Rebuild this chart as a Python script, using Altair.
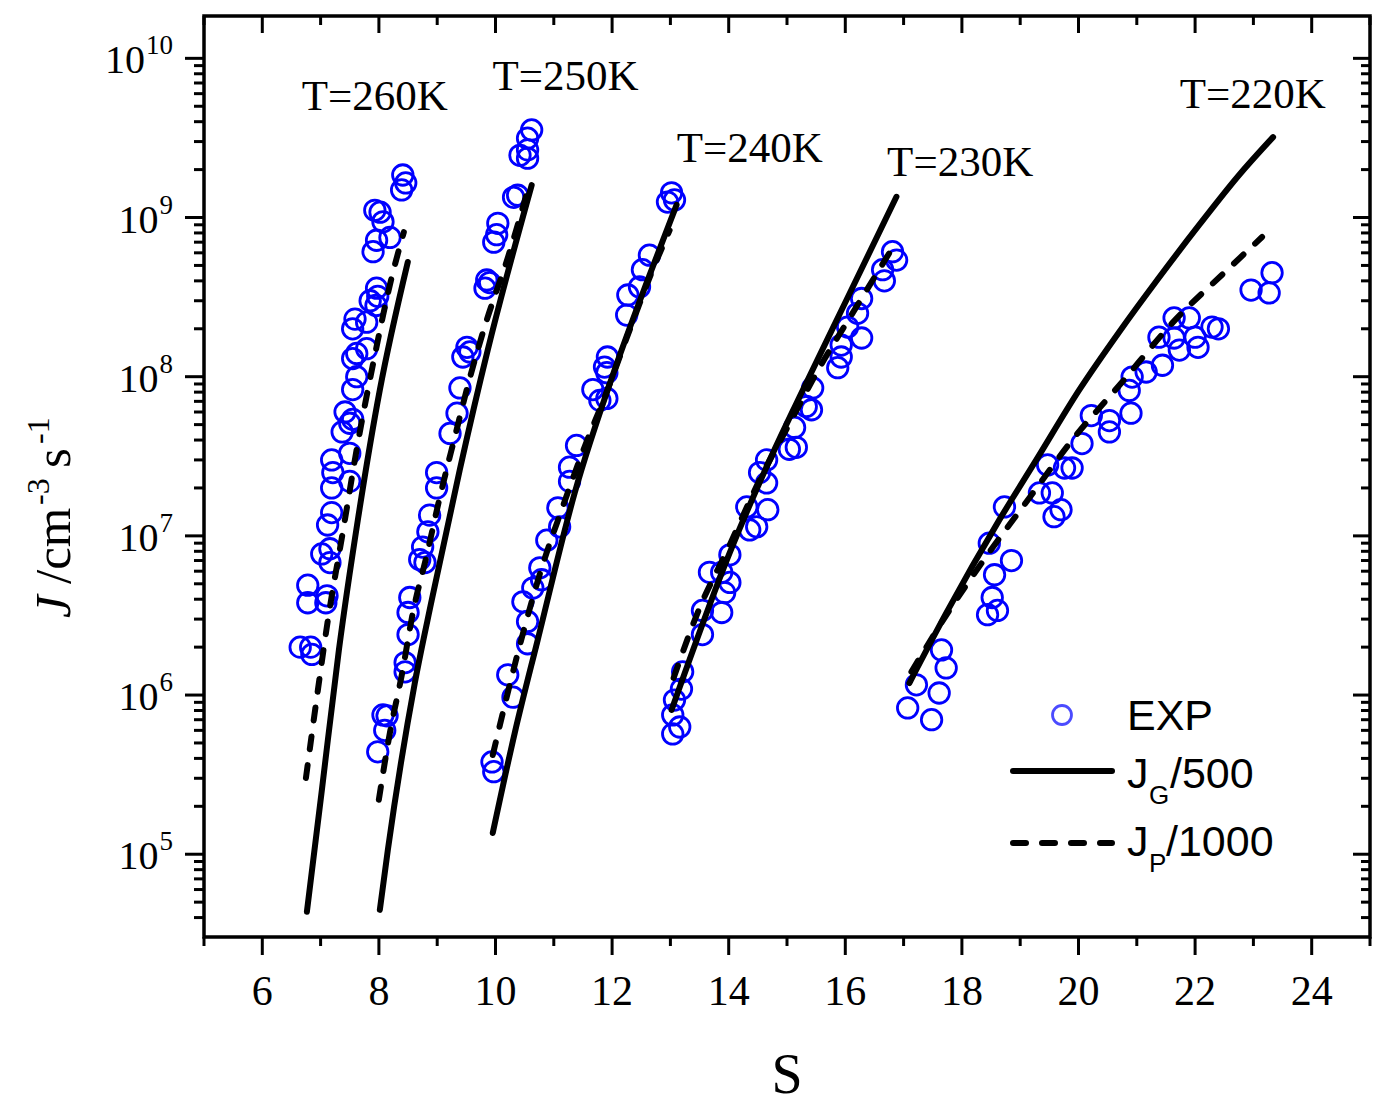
import altair as alt
import pandas as pd

# ---------------------------------------------------------------------------
# Measured nucleation rates J (cm^-3 s^-1) against supersaturation S
# ---------------------------------------------------------------------------
s_exp_260 = [8.41, 8.39, 8.46, 7.93, 8.02, 8.07, 8.19, 7.96, 7.90, 7.96, 7.98, 7.95, 7.85,
             7.59, 7.55, 7.79, 7.62, 7.55, 7.79, 7.62, 7.55, 7.42, 7.55, 7.37, 7.50, 7.50,
             7.19, 7.21, 7.19, 7.50, 7.19, 7.12, 7.16, 7.02, 7.16, 6.78, 6.78, 7.11, 7.09,
             6.65, 6.83, 6.85]
j_exp_260 = [1.85e9, 1.49e9, 1.65e9, 1.11e9, 1.08e9, 9.4e8, 7.5e8, 7.2e8, 6.1e8, 3.6e8, 3.2e8,
             2.8e8, 3.0e8, 2.3e8, 2.0e8, 2.2e8, 1.4e8, 1.3e8, 1.5e8, 1.0e8, 8.3e7, 6.0e7, 5.4e7,
             4.5e7, 5.1e7, 3.3e7, 3.0e7, 2.5e7, 2.0e7, 2.2e7, 1.4e7, 1.17e7, 8.3e6, 7.7e6, 6.8e6,
             4.9e6, 3.8e6, 4.2e6, 3.8e6, 2.0e6, 2.0e6, 1.8e6]

s_exp_250 = [10.62, 10.55, 10.42, 10.55, 10.55, 10.38, 10.31, 10.04, 10.02, 9.97, 9.85, 9.82,
             9.90, 9.51, 9.44, 9.56, 9.39, 9.34, 9.22, 8.99, 8.99, 8.87, 8.84, 8.75, 8.79, 8.70,
             8.53, 8.50, 8.50, 8.45, 8.45, 8.07, 8.14, 8.10, 7.98]
j_exp_250 = [3.55e9, 3.15e9, 2.46e9, 2.66e9, 2.36e9, 1.38e9, 1.34e9, 9.2e8, 7.8e8, 7.0e8, 4.05e8,
             3.6e8, 3.9e8, 1.53e8, 1.33e8, 1.43e8, 8.5e7, 5.9e7, 4.4e7, 2.5e7, 2.0e7, 1.35e7,
             1.06e7, 8.5e6, 6.8e6, 7.1e6, 4.1e6, 3.3e6, 2.4e6, 1.6e6, 1.4e6, 7.5e5, 7.4e5, 6.0e5,
             4.4e5]

s_exp_240 = [13.02, 12.95, 13.07, 12.64, 12.52, 12.47, 12.27, 12.25, 11.92, 11.87, 11.91, 11.67,
             11.91, 11.79, 11.39, 11.27, 11.27, 11.07, 11.10, 10.88, 10.76, 10.79, 10.47, 10.64,
             10.55, 10.55, 10.21, 10.30, 9.94, 9.97]
j_exp_240 = [1.43e9, 1.25e9, 1.29e9, 5.8e8, 4.7e8, 3.66e8, 3.26e8, 2.44e8, 1.33e8, 1.15e8, 1.06e8,
             8.3e7, 7.3e7, 7.1e7, 3.7e7, 2.7e7, 2.2e7, 1.5e7, 1.14e7, 9.4e6, 6.3e6, 5.3e6, 3.85e6,
             4.7e6, 2.9e6, 2.1e6, 1.34e6, 9.7e5, 3.8e5, 3.3e5]

s_exp_230 = [16.81, 16.88, 16.64, 16.67, 16.28, 16.21, 16.04, 16.28, 15.93, 15.93, 15.87, 15.44,
             15.33, 15.42, 15.13, 15.16, 15.04, 14.65, 14.53, 14.65, 14.67, 14.31, 14.48, 14.36,
             14.02, 13.67, 13.88, 14.02, 13.93, 13.55, 13.88, 13.55, 13.21, 13.19, 13.07, 13.04,
             13.16, 13.04]
j_exp_230 = [6.1e8, 5.4e8, 4.7e8, 4.0e8, 3.1e8, 2.5e8, 2.05e8, 1.75e8, 1.58e8, 1.33e8, 1.14e8,
             8.5e7, 6.5e7, 6.2e7, 4.8e7, 3.6e7, 3.5e7, 3.0e7, 2.5e7, 2.15e7, 1.46e7, 1.52e7,
             1.14e7, 1.09e7, 7.6e6, 5.9e6, 5.9e6, 5.1e6, 4.4e6, 3.4e6, 3.3e6, 2.4e6, 1.4e6,
             1.09e6, 9.3e5, 7.5e5, 6.3e5, 5.7e5]

s_exp_220 = [22.96, 23.32, 23.27, 21.64, 21.90, 22.29, 22.40, 21.38, 21.64, 22.00, 22.05, 21.73,
             21.44, 21.16, 20.92, 20.87, 20.90, 20.53, 20.53, 20.22, 20.06, 19.89, 19.76, 19.47,
             19.55, 19.33, 19.70, 19.58, 18.73, 18.47, 18.85, 18.56, 18.52, 18.61, 18.44, 17.65,
             17.73, 17.22, 17.61, 17.07, 17.48]
j_exp_220 = [3.5e8, 4.5e8, 3.36e8, 2.34e8, 2.34e8, 2.05e8, 2.0e8, 1.77e8, 1.75e8, 1.77e8, 1.53e8,
             1.47e8, 1.18e8, 1.07e8, 9.95e7, 8.2e7, 5.9e7, 5.3e7, 4.5e7, 5.7e7, 3.8e7, 2.67e7,
             2.67e7, 2.79e7, 1.86e7, 1.86e7, 1.46e7, 1.32e7, 1.52e7, 9.0e6, 7.0e6, 5.7e6, 4.1e6,
             3.4e6, 3.2e6, 1.92e6, 1.48e6, 1.16e6, 1.03e6, 8.3e5, 7.0e5]

# ---------------------------------------------------------------------------
# Model curves: J_G/500 (solid) and J_P/1000 (dashed)
# ---------------------------------------------------------------------------
s_g_260 = [6.765, 7.022, 7.314, 7.639, 8.016, 8.496]
j_g_260 = [4.35e4, 2.54e5, 1.92e6, 1.26e7, 8.26e7, 5.26e8]
s_p_260 = [6.748, 6.954, 7.125, 7.382, 7.639, 7.931, 8.188, 8.428]
j_p_260 = [3.01e5, 1.08e6, 2.96e6, 1.06e7, 3.84e7, 1.37e8, 3.77e8, 8.1e8]

s_g_250 = [8.016, 8.153, 8.616, 8.907, 9.387, 9.867, 10.621]
j_g_250 = [4.47e4, 1.06e5, 1.19e6, 3.96e6, 2.6e7, 1.47e8, 1.6e9]
s_p_250 = [7.999, 8.188, 8.393, 8.582, 8.822, 9.045, 9.302, 9.559, 9.85, 10.21, 10.553]
j_p_250 = [2.2e5, 5.78e5, 1.34e6, 3.28e6, 7.59e6, 1.75e7, 4.18e7, 9.8e7, 2.27e8, 5.57e8, 1.49e9]

s_g_240 = [9.953, 10.33, 10.724, 11.358, 12.06, 12.61, 13.106]
j_g_240 = [1.36e5, 5.78e5, 2.22e6, 1.86e7, 1.15e8, 4.05e8, 1.2e9]
s_p_240 = [9.953, 10.244, 10.501, 10.793, 11.135, 11.495, 11.906, 12.30, 12.695, 12.986]
j_p_240 = [4.2e5, 1.16e6, 2.68e6, 6.3e6, 1.46e7, 3.37e7, 8.0e7, 1.96e8, 4.68e8, 8.3e8]

s_g_230 = [13.02, 14.015, 14.649, 15.214, 16.02, 16.877]
j_g_230 = [8.06e5, 7.8e6, 2.71e7, 7.46e7, 3.03e8, 1.35e9]
s_p_230 = [13.055, 13.5, 13.98, 14.529, 15.077, 15.557, 16.105, 16.808]
j_p_230 = [1.28e6, 3.52e6, 8.2e6, 2.24e7, 5.35e7, 1.14e8, 2.44e8, 6.43e8]

s_g_220 = [17.099, 17.733, 18.642, 19.276, 20.013, 20.698, 21.35, 22.07, 22.755, 23.338]
j_g_220 = [1.19e6, 3.28e6, 1.26e7, 3.0e7, 8.26e7, 1.91e8, 4.05e8, 8.98e8, 1.85e9, 3.2e9]
s_p_220 = [17.134, 17.733, 18.419, 19.156, 19.893, 20.75, 21.607, 22.549, 23.149]
j_p_220 = [1.4e6, 3.18e6, 7.43e6, 1.73e7, 4.0e7, 9.27e7, 2.17e8, 4.68e8, 7.54e8]

# Temperature annotations (anchored in data space)
temp_labels = ["T=260K", "T=250K", "T=240K", "T=230K", "T=220K"]
temp_label_s = [7.93, 11.20, 14.36, 17.97, 22.99]
temp_label_j = [4.73e9, 6.3e9, 2.23e9, 1.82e9, 4.87e9]

# Axis ticks and labels
x_major = [6, 8, 10, 12, 14, 16, 18, 20, 22, 24]
x_minor = [5, 7, 9, 11, 13, 15, 17, 19, 21, 23, 25]
y_major = [1e5, 1e6, 1e7, 1e8, 1e9, 1e10]
y_exponents = ["5", "6", "7", "8", "9", "10"]

X_DOMAIN = [5, 25]
Y_DOMAIN = [3.02e4, 1.845e10]
y_minor = [k * 10 ** n for n in range(4, 11) for k in range(2, 10)
           if Y_DOMAIN[0] <= k * 10 ** n <= Y_DOMAIN[1]]

W, H = 1166, 921
SERIF = "Liberation Serif"
SANS = "Liberation Sans"
BLUE = "#0000FF"

xs = alt.Scale(domain=X_DOMAIN, nice=False, zero=False)
ys = alt.Scale(type="log", domain=Y_DOMAIN, nice=False)


def xenc(field="S"):
    return alt.X(f"{field}:Q", scale=xs, axis=None)


def yenc(field="J"):
    return alt.Y(f"{field}:Q", scale=ys, axis=None)


# ---------------------------------------------------------------------------
# Tables
# ---------------------------------------------------------------------------
exp_sets = {"260": (s_exp_260, j_exp_260), "250": (s_exp_250, j_exp_250),
            "240": (s_exp_240, j_exp_240), "230": (s_exp_230, j_exp_230),
            "220": (s_exp_220, j_exp_220)}
pts = pd.concat([pd.DataFrame({"S": s, "J": j, "T": t}) for t, (s, j) in exp_sets.items()])

g_sets = {"260": (s_g_260, j_g_260), "250": (s_g_250, j_g_250), "240": (s_g_240, j_g_240),
          "230": (s_g_230, j_g_230), "220": (s_g_220, j_g_220)}
p_sets = {"260": (s_p_260, j_p_260), "250": (s_p_250, j_p_250), "240": (s_p_240, j_p_240),
          "230": (s_p_230, j_p_230), "220": (s_p_220, j_p_220)}
g_df = pd.concat([pd.DataFrame({"S": s, "J": j, "T": t}) for t, (s, j) in g_sets.items()])
p_df = pd.concat([pd.DataFrame({"S": s, "J": j, "T": t}) for t, (s, j) in p_sets.items()])

tl_df = pd.DataFrame({"S": temp_label_s, "J": temp_label_j, "label": temp_labels})

# ---------------------------------------------------------------------------
# Data layers
# ---------------------------------------------------------------------------
points = alt.Chart(pts).mark_point(
    shape="circle", filled=False, color=BLUE, strokeWidth=2.8, size=420, opacity=1
).encode(x=xenc(), y=yenc())

solid = alt.Chart(g_df).mark_line(
    color="black", strokeWidth=6, strokeCap="round", strokeJoin="round",
    interpolate="monotone"
).encode(x=xenc(), y=yenc(), detail="T:N", order="S:Q")

dashed = alt.Chart(p_df).mark_line(
    color="black", strokeWidth=6, strokeCap="round", strokeDash=[13, 16],
    interpolate="monotone"
).encode(x=xenc(), y=yenc(), detail="T:N", order="S:Q")

temp_text = alt.Chart(tl_df).mark_text(
    font=SERIF, fontSize=43, align="center", baseline="alphabetic", color="black"
).encode(x=xenc(), y=yenc(), text="label:N")

# ---------------------------------------------------------------------------
# Frame ticks: outward on bottom/left, inward on top/right
# ---------------------------------------------------------------------------
TW = 3


def xticks(vals, y0, y1):
    return alt.Chart(pd.DataFrame({"v": vals})).mark_rule(color="black", strokeWidth=TW).encode(
        x=xenc("v"), y=alt.value(y0), y2=alt.value(y1))


def yticks(vals, x0, x1):
    return alt.Chart(pd.DataFrame({"v": vals})).mark_rule(color="black", strokeWidth=TW).encode(
        y=yenc("v"), x=alt.value(x0), x2=alt.value(x1))


ticks = [
    xticks(x_major, H, H + 18), xticks(x_minor, H, H + 9),
    xticks(x_major, 0, 17), xticks(x_minor, 0, 9),
    yticks(y_major, -19, 0), yticks(y_minor, -10, 0),
    yticks(y_major, W - 17, W), yticks(y_minor, W - 9, W),
]

# ---------------------------------------------------------------------------
# Tick labels and axis titles
# ---------------------------------------------------------------------------
x_labels = alt.Chart(pd.DataFrame({"v": x_major})).mark_text(
    font=SERIF, fontSize=42, align="center", baseline="alphabetic", color="black"
).encode(x=xenc("v"), y=alt.value(H + 68), text=alt.Text("v:Q", format="d"))

ylab_df = pd.DataFrame({"v": y_major, "e": y_exponents})
y_base = alt.Chart(ylab_df).transform_calculate(
    xb="-32 - 13.5 * length(datum.e)"
).mark_text(
    font=SERIF, fontSize=40, align="right", baseline="alphabetic", dy=15, color="black"
).encode(x=alt.X("xb:Q", scale=None), y=yenc("v"), text=alt.value("10"))

y_exp = alt.Chart(ylab_df).transform_calculate(
    xe="-31 - 13.5 * length(datum.e)"
).mark_text(
    font=SERIF, fontSize=27, align="left", baseline="alphabetic", dy=-4, color="black"
).encode(x=alt.X("xe:Q", scale=None), y=yenc("v"), text="e:N")

x_title = alt.Chart(pd.DataFrame({"t": ["S"]})).mark_text(
    font=SERIF, fontSize=56, align="center", baseline="alphabetic", color="black"
).encode(x=alt.value(583), y=alt.value(1093 - 16), text="t:N")


def rot_text(txt, x, y, size, style="normal"):
    return alt.Chart(pd.DataFrame({"t": [txt]})).mark_text(
        font=SERIF, fontSize=size, fontStyle=style, angle=270, align="left",
        baseline="alphabetic", color="black"
    ).encode(x=alt.value(x - 204), y=alt.value(y - 16), text="t:N")


y_title = [
    rot_text("J", 70, 618, 51, "italic"),
    rot_text("/cm", 70, 584, 51),
    rot_text("-3", 49, 505, 32),
    rot_text("s", 70, 468, 51),
    rot_text("-1", 49, 444, 32),
]

# ---------------------------------------------------------------------------
# Legend
# ---------------------------------------------------------------------------
one = pd.DataFrame({"k": [0]})
leg_point = alt.Chart(one).mark_point(
    shape="circle", filled=False, color=BLUE, strokeWidth=2.8, size=360
).encode(x=alt.value(1062 - 204), y=alt.value(715 - 16))
leg_solid = alt.Chart(one).mark_rule(color="black", strokeWidth=6, strokeCap="round").encode(
    x=alt.value(1013 - 204), x2=alt.value(1112 - 204), y=alt.value(771 - 16))
leg_dash = alt.Chart(one).mark_rule(
    color="black", strokeWidth=6, strokeCap="round", strokeDash=[13, 16]
).encode(x=alt.value(1013 - 204), x2=alt.value(1112 - 204), y=alt.value(843 - 16))


def leg_text(txt, x, y, size):
    return alt.Chart(pd.DataFrame({"t": [txt]})).mark_text(
        font=SANS, fontSize=size, align="left", baseline="alphabetic", color="black"
    ).encode(x=alt.value(x - 204), y=alt.value(y - 16), text="t:N")


legend = [
    leg_point, leg_solid, leg_dash,
    leg_text("EXP", 1127, 730, 43),
    leg_text("J", 1127, 788, 43), leg_text("G", 1149, 804, 26), leg_text("/500", 1170, 788, 43),
    leg_text("J", 1127, 856, 43), leg_text("P", 1149, 872, 26), leg_text("/1000", 1166, 856, 43),
]

chart = alt.layer(
    *ticks, points, solid, dashed, temp_text, x_labels, y_base, y_exp, x_title,
    *y_title, *legend
).properties(
    width=W, height=H,
    autosize=alt.AutoSizeParams(type="none"),
    padding={"left": 204, "top": 16, "right": 24, "bottom": 169},
    background="white",
).configure_view(stroke="black", strokeWidth=3.5)

chart.save("out.html", embed_options={"renderer": "svg", "actions": False})
